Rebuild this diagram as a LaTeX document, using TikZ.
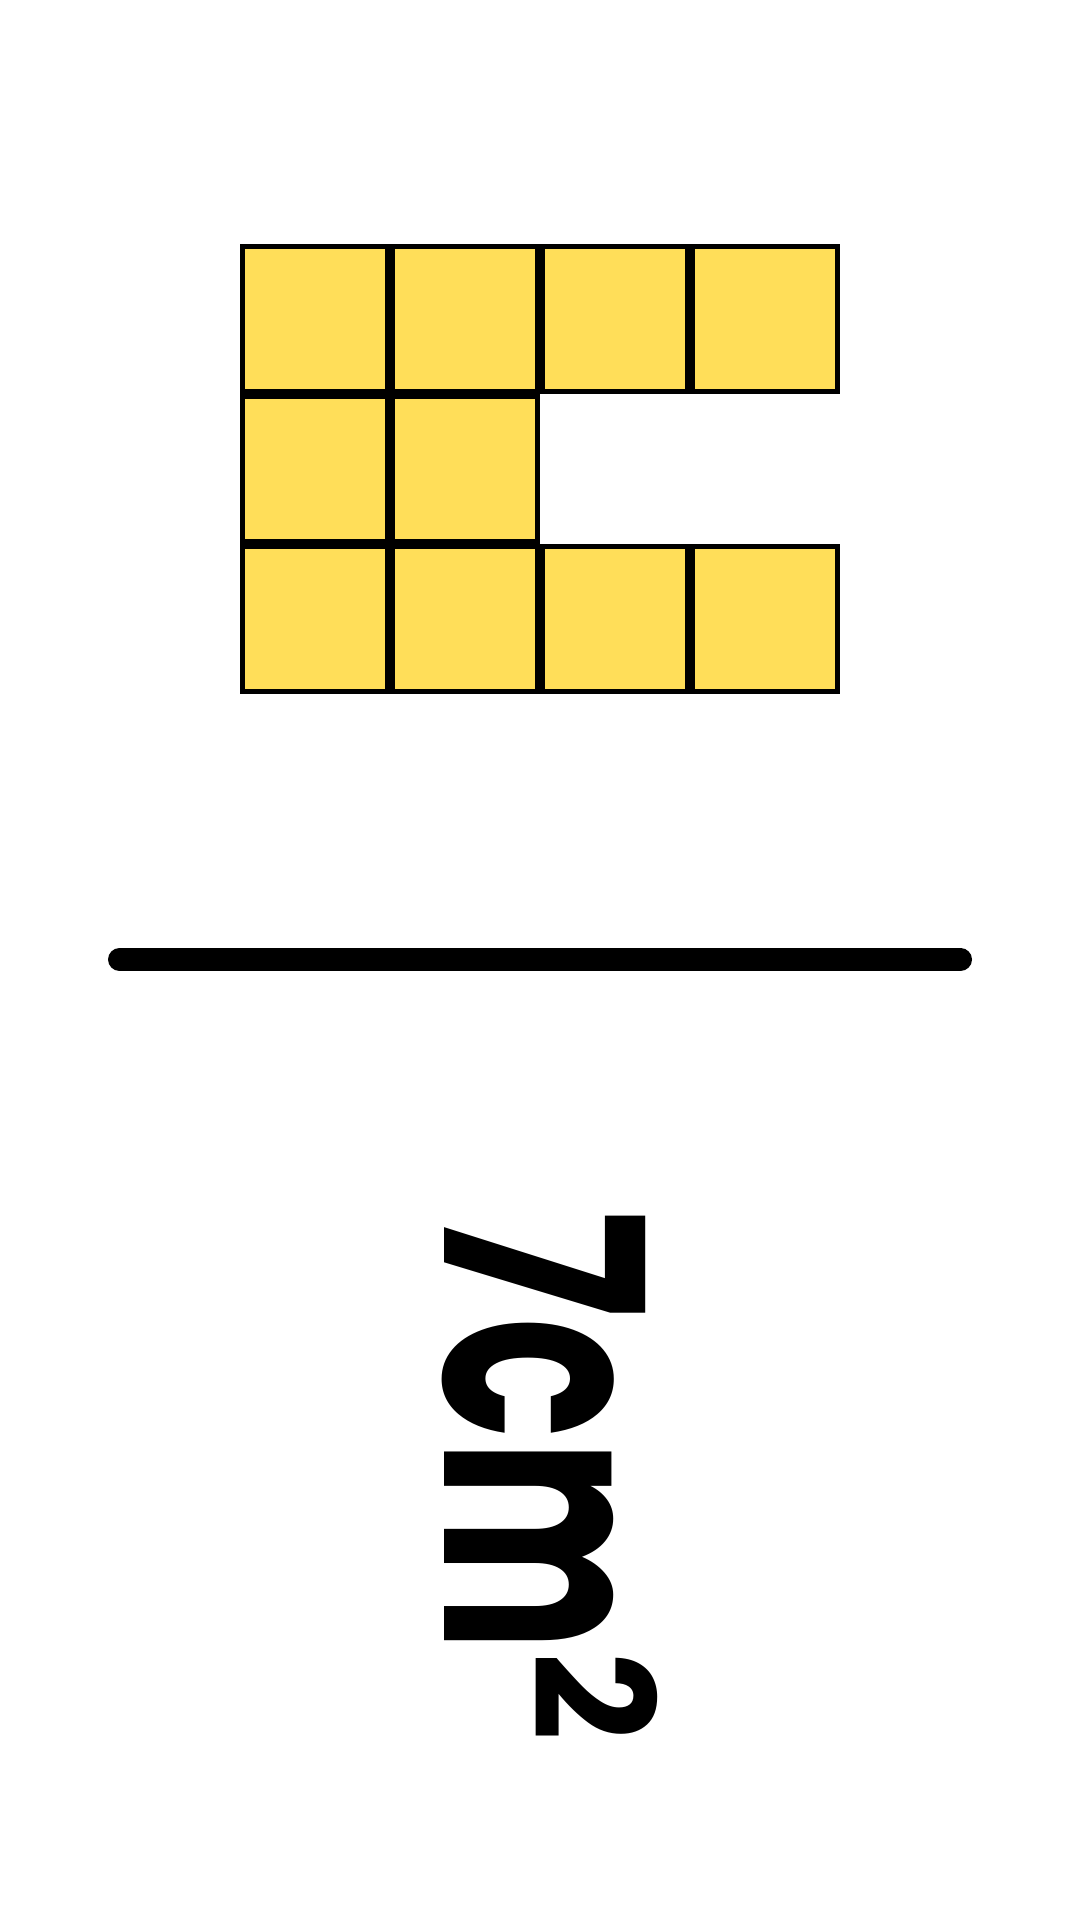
\documentclass[tikz,border=0pt]{standalone}
\usepackage{fontspec}
\setmainfont{Poppins}
\definecolor{sqfill}{HTML}{FFDE59}
\begin{document}
\begin{tikzpicture}[x=0.5pt,y=-0.5pt,
  sqbox/.style={fill=sqfill,draw=black,line width=2.5pt,minimum size=72.5pt,inner sep=0pt,outer sep=0pt},
  bar/.style={line width=11.5pt,line cap=round},
  lbl/.style={inner sep=0pt,outer sep=0pt,rotate=-90,anchor=base west,font=\bfseries}]
\useasboundingbox (0,0) rectangle (1080,1920);
\fill[white] (0,0) rectangle (1080,1920);
% row 1
\node[sqbox] (s11) at (315,319) {};
\node[sqbox] (s12) at (465,319) {};
\node[sqbox] (s13) at (615,319) {};
\node[sqbox] (s14) at (765,319) {};
% row 2
\node[sqbox] (s21) at (315,469) {};
\node[sqbox] (s22) at (465,469) {};
% row 3
\node[sqbox] (s31) at (315,619) {};
\node[sqbox] (s32) at (465,619) {};
\node[sqbox] (s33) at (615,619) {};
\node[sqbox] (s34) at (765,619) {};
% divider
\coordinate (la) at (119.5,959.5);
\coordinate (lb) at (960.5,959.5);
\draw[bar] (la) -- (lb);
% label
\node[lbl] (t) at (444,1210) {\scalebox{0.67}[1]{\fontsize{150pt}{150pt}\selectfont \scalebox{1}[0.92]{7}cm\raisebox{45pt}{\scalebox{1.2}[0.86]{\fontsize{96pt}{96pt}\selectfont 2}}}};
\end{tikzpicture}
\end{document}
